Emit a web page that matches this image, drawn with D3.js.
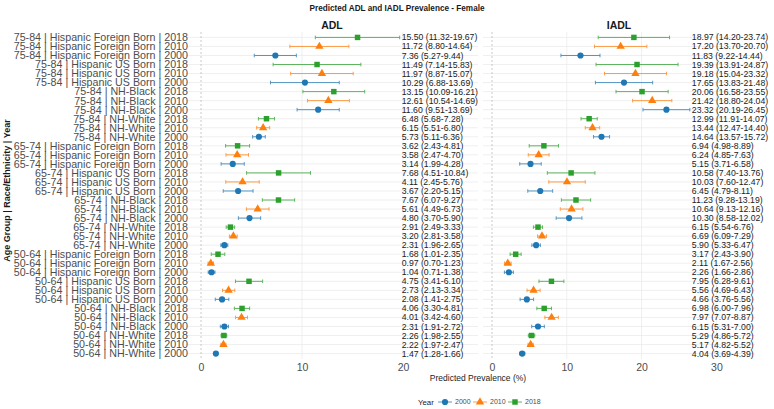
<!DOCTYPE html>
<html lang="en">
<head>
  <meta charset="UTF-8">
  <title>Predicted ADL and IADL Prevalence - Female</title>
  <style>
    html, body { margin: 0; background: #fff; }
    svg { display: block; font-family: 'Liberation Sans', Arial, sans-serif; }
  </style>
  <script src="https://cdn.jsdelivr.net/npm/d3@7/dist/d3.min.js"></script>
</head>
<body>
  <script>
    const width = 774
    const height = 409

    // rows, top to bottom
    const ages = ['75-84', '65-74', '50-64']
    const groups = ['Hispanic Foreign Born', 'Hispanic US Born', 'NH-Black', 'NH-White']
    const years = ['2018', '2010', '2000']

    // ADL estimates and 95% CI, in row order
    const adlEst = [15.50, 11.72, 7.36, 11.49, 11.97, 10.29, 13.15, 12.61, 11.60, 6.48, 6.15, 5.73,
      3.62, 3.58, 3.14, 7.68, 4.11, 3.67, 7.67, 5.61, 4.80, 2.91, 3.20, 2.31,
      1.68, 0.97, 1.04, 4.75, 2.73, 2.08, 4.06, 4.01, 2.31, 2.26, 2.22, 1.47]
    const adlLow = [11.32, 8.80, 5.27, 7.14, 8.87, 6.88, 10.09, 10.54, 9.51, 5.68, 5.51, 5.11,
      2.43, 2.47, 1.99, 4.51, 2.45, 2.20, 6.07, 4.49, 3.70, 2.49, 2.81, 1.96,
      1.01, 0.70, 0.71, 3.41, 2.13, 1.41, 3.30, 3.42, 1.91, 1.98, 1.97, 1.28]
    const adlHigh = [19.67, 14.64, 9.44, 15.83, 15.07, 13.69, 16.21, 14.69, 13.69, 7.28, 6.80, 6.36,
      4.81, 4.70, 4.28, 10.84, 5.76, 5.15, 9.27, 6.73, 5.90, 3.33, 3.58, 2.65,
      2.35, 1.23, 1.38, 6.10, 3.34, 2.75, 4.81, 4.60, 2.72, 2.55, 2.47, 1.66]

    // IADL estimates and 95% CI
    const iadlEst = [18.97, 17.20, 11.83, 19.39, 19.18, 17.65, 20.06, 21.42, 23.32, 12.99, 13.44, 14.64,
      6.94, 6.24, 5.15, 10.58, 10.03, 6.45, 11.23, 10.64, 10.30, 6.15, 6.69, 5.90,
      3.17, 2.11, 2.26, 7.95, 5.56, 4.66, 6.98, 7.97, 6.15, 5.29, 5.17, 4.04]
    const iadlLow = [14.20, 13.70, 9.22, 13.91, 15.04, 13.83, 16.58, 18.80, 20.19, 11.91, 12.47, 13.57,
      4.98, 4.85, 3.71, 7.40, 7.60, 4.79, 9.28, 9.13, 8.58, 5.54, 6.09, 5.33,
      2.43, 1.67, 1.66, 6.28, 4.69, 3.76, 6.00, 7.07, 5.31, 4.86, 4.82, 3.69]
    const iadlHigh = [23.74, 20.70, 14.44, 24.87, 23.32, 21.48, 23.55, 24.04, 26.45, 14.07, 14.40, 15.72,
      8.89, 7.63, 6.58, 13.76, 12.47, 8.11, 13.19, 12.16, 12.02, 6.76, 7.29, 6.47,
      3.90, 2.56, 2.86, 9.61, 6.43, 5.56, 7.96, 8.87, 7.00, 5.72, 5.52, 4.39]

    const adlTicks = [0, 10, 20]
    const iadlTicks = [0, 10, 20, 30]
    const legendYears = ['2000', '2010', '2018']

    const colors = { '2000': '#1f77b4', '2010': '#ff7f0e', '2018': '#2ca02c' }
    const shapes = { '2000': d3.symbolCircle, '2010': d3.symbolTriangle, '2018': d3.symbolSquare }

    // build rows
    const rows = []
    ages.forEach(a => groups.forEach(g => years.forEach(y => {
      rows.push({ label: `${a} | ${g} | ${y}`, year: y })
    })))
    rows.forEach((r, i) => {
      r.adl = { est: adlEst[i], lo: adlLow[i], hi: adlHigh[i] }
      r.iadl = { est: iadlEst[i], lo: iadlLow[i], hi: iadlHigh[i] }
    })

    const svg = d3.select('body').append('svg')
      .attr('width', width)
      .attr('height', height)

    const plotTop = 32
    const plotBottom = 359

    const yScale = d3.scaleBand()
      .domain(d3.range(rows.length))
      .range([plotTop, plotBottom])
      .paddingOuter(0.1)

    const yc = i => yScale(i) + yScale.bandwidth() / 2

    const panels = [
      { key: 'adl', title: 'ADL', x0: 186, x1: 478, domain: [-1.49, 27.43], ticks: adlTicks },
      { key: 'iadl', title: 'IADL', x0: 483, x1: 755, domain: [-1.2, 35.16], ticks: iadlTicks }
    ]

    // main title
    svg.append('text')
      .attr('x', 397).attr('y', 11)
      .attr('text-anchor', 'middle')
      .attr('font-size', 8.2).attr('font-weight', 'bold')
      .attr('fill', '#1a1a1a')
      .text('Predicted ADL and IADL Prevalence - Female')

    panels.forEach(p => {
      const x = d3.scaleLinear().domain(p.domain).range([p.x0, p.x1])
      const g = svg.append('g')

      // grid
      g.selectAll('.hgrid').data(rows).enter().append('line')
        .attr('x1', p.x0).attr('x2', p.x1)
        .attr('y1', (d, i) => yc(i)).attr('y2', (d, i) => yc(i))
        .attr('stroke', '#ebebeb').attr('stroke-width', 0.8)
      g.selectAll('.vgrid').data(p.ticks.filter(t => t > 0)).enter().append('line')
        .attr('x1', d => x(d)).attr('x2', d => x(d))
        .attr('y1', plotTop).attr('y2', plotBottom)
        .attr('stroke', '#ebebeb').attr('stroke-width', 0.8)
      g.append('line')
        .attr('x1', x(0)).attr('x2', x(0))
        .attr('y1', plotTop).attr('y2', plotBottom)
        .attr('stroke', '#b3b3b3').attr('stroke-width', 0.7)
        .attr('stroke-dasharray', '2,2')

      // facet title
      g.append('text')
        .attr('x', (p.x0 + p.x1) / 2).attr('y', 29)
        .attr('text-anchor', 'middle')
        .attr('font-size', 10.5).attr('font-weight', 'bold')
        .attr('fill', '#1a1a1a')
        .text(p.title)

      // x axis labels
      const axis = d3.axisBottom(x).tickValues(p.ticks).tickSize(0).tickPadding(5)
      const ga = g.append('g').attr('transform', `translate(0, ${plotBottom})`).call(axis)
      ga.select('.domain').remove()
      ga.selectAll('text').attr('font-size', 10.5).attr('fill', '#4d4d4d')
        .attr('font-family', "'Liberation Sans', Arial, sans-serif")

      // error bars
      const bars = g.selectAll('.err').data(rows).enter().append('g')
        .attr('stroke', d => colors[d.year]).attr('stroke-width', 1).attr('opacity', 0.75)
      bars.append('line')
        .attr('x1', d => x(d[p.key].lo)).attr('x2', d => x(d[p.key].hi))
        .attr('y1', (d, i) => yc(i)).attr('y2', (d, i) => yc(i))
      bars.append('line')
        .attr('x1', d => x(d[p.key].lo)).attr('x2', d => x(d[p.key].lo))
        .attr('y1', (d, i) => yc(i) - 1.8).attr('y2', (d, i) => yc(i) + 1.8)
      bars.append('line')
        .attr('x1', d => x(d[p.key].hi)).attr('x2', d => x(d[p.key].hi))
        .attr('y1', (d, i) => yc(i) - 1.8).attr('y2', (d, i) => yc(i) + 1.8)

      // points
      g.selectAll('.pt').data(rows).enter().append('path')
        .attr('d', d => d3.symbol(shapes[d.year], 30)())
        .attr('transform', (d, i) => `translate(${x(d[p.key].est)}, ${yc(i)})`)
        .attr('fill', d => colors[d.year])

      // estimate labels
      const tx = x(d3.max(rows, d => d[p.key].hi)) + 2
      g.selectAll('.lab').data(rows).enter().append('text')
        .attr('x', tx).attr('y', (d, i) => yc(i))
        .attr('dy', '0.35em')
        .attr('font-size', 8.7).attr('fill', '#222')
        .text(d => `${d[p.key].est.toFixed(2)} (${d[p.key].lo.toFixed(2)}-${d[p.key].hi.toFixed(2)})`)
    })

    // y axis labels
    svg.append('g').selectAll('text').data(rows).enter().append('text')
      .attr('x', 188).attr('y', (d, i) => yc(i))
      .attr('dy', '0.36em')
      .attr('text-anchor', 'end')
      .attr('font-size', 10.7).attr('fill', '#4d4d4d')
      .text(d => d.label)

    // y axis title
    svg.append('text')
      .attr('transform', `translate(10, ${(plotTop + plotBottom) / 2 - 5}) rotate(-90)`)
      .attr('text-anchor', 'middle')
      .attr('font-size', 9).attr('font-weight', 'bold')
      .attr('fill', '#1a1a1a')
      .text('Age Group | Race/Ethnicity | Year')

    // x axis title
    svg.append('text')
      .attr('x', 478).attr('y', 381)
      .attr('text-anchor', 'middle')
      .attr('font-size', 8.5).attr('fill', '#1a1a1a')
      .text('Predicted Prevalence (%)')

    // legend
    const lg = svg.append('g').attr('transform', 'translate(0, 402)')
    lg.append('text')
      .attr('x', 418).attr('dy', '0.35em')
      .attr('font-size', 7.8).attr('fill', '#1a1a1a')
      .text('Year')
    const lx = d3.scalePoint().domain(legendYears).range([445, 515])
    const items = lg.selectAll('.li').data(legendYears).enter().append('g')
      .attr('transform', d => `translate(${lx(d)}, 0)`)
    items.append('line')
      .attr('x1', -7).attr('x2', 7)
      .attr('stroke', d => colors[d]).attr('stroke-width', 1).attr('opacity', 0.75)
    items.append('path')
      .attr('d', d => d3.symbol(shapes[d], 30)())
      .attr('fill', d => colors[d])
    items.append('text')
      .attr('x', 10).attr('dy', '0.35em')
      .attr('font-size', 7).attr('fill', '#4d4d4d')
      .text(d => d)
  </script>
</body>
</html>
